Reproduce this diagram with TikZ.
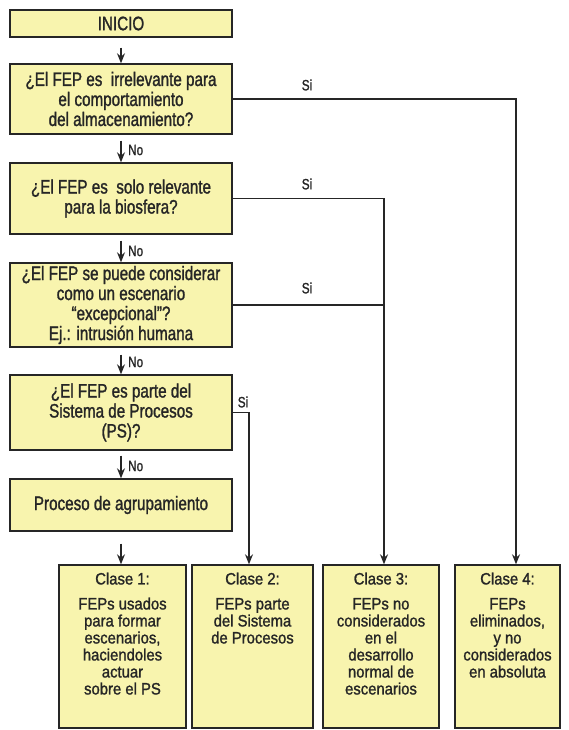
\documentclass[tikz,border=0pt]{standalone}
\usepackage{fontspec}
\setmainfont[FakeStretch=0.78,FakeBold=1.3]{Liberation Sans}
\newfontfamily\clsfont[FakeStretch=0.9,FakeBold=1.3]{Liberation Sans}
\usetikzlibrary{arrows.meta,positioning}
\definecolor{boxfill}{HTML}{F8F4AE}
\definecolor{ink}{HTML}{262626}
\tikzset{
  qbox/.style={draw=ink, line width=1.4pt, fill=boxfill, inner sep=0pt,
    minimum width=222pt, align=center, text=ink,
    font=\fontsize{19.5}{20}\selectfont},
  clsbox/.style={draw=ink, line width=1.4pt, fill=boxfill, inner sep=0pt,
    minimum height=163pt},
  clstext/.style={anchor=north, align=center, text=ink, inner sep=0pt,
    font=\clsfont\fontsize{16.5}{17}\selectfont},
  flow/.style={draw=ink, line width=1.2pt, -{Stealth[length=10pt,width=8pt]}},
  link/.style={draw=ink, line width=1.2pt},
  lbl/.style={text=ink, inner sep=0pt, font=\fontsize{15}{15}\selectfont}
}
\begin{document}
\begin{tikzpicture}[x=1pt,y=-1pt]
\useasboundingbox (0,0) rectangle (568,730);

% decision column
\node[qbox, minimum height=27pt] (inicio) at (121,23.5) {INICIO};
\node[qbox, minimum height=70pt] (q1) at (121,99)
  {¿El FEP es\ \ irrelevante para\\el comportamiento\\del almacenamiento?};
\node[qbox, minimum height=71pt] (q2) at (121,198.5)
  {¿El FEP es\ \ solo relevante\\para la biosfera?};
\node[qbox, minimum height=84pt] (q3) at (121,305)
  {¿El FEP se puede considerar\\como un escenario\\“excepcional”?\\Ej.: intrusión humana};
\node[qbox, minimum height=75pt] (q4) at (121,412.5)
  {¿El FEP es parte del\\Sistema de Procesos\\(PS)?};
\node[qbox, minimum height=52pt] (proc) at (121,505) {Proceso de agrupamiento};

% resulting classes
\node[clsbox, minimum width=127pt] (c1) at (122.5,646.5) {};
\node[clsbox, minimum width=121pt] (c2) at (252.5,646.5) {};
\node[clsbox, minimum width=116pt] (c3) at (381,646.5) {};
\node[clsbox, minimum width=105pt] (c4) at (507.5,646.5) {};

\node[clstext] (t1) at ([yshift=-8pt]c1.north)
  {Clase 1:\\[8pt]FEPs usados\\para formar\\escenarios,\\haciendoles\\actuar\\sobre el PS};
\node[clstext] (t2) at ([yshift=-8pt]c2.north)
  {Clase 2:\\[8pt]FEPs parte\\del Sistema\\de Procesos};
\node[clstext] (t3) at ([yshift=-8pt]c3.north)
  {Clase 3:\\[8pt]FEPs no\\considerados\\en el\\desarrollo\\normal de\\escenarios};
\node[clstext] (t4) at ([yshift=-8pt]c4.north)
  {Clase 4:\\[8pt]FEPs\\eliminados,\\y no\\considerados\\en absoluta};

% "No" path down the column
\draw[flow, shorten <=10pt] (inicio.south) -- (q1.north);
\draw[flow, shorten <=6pt] (q1.south) -- (q2.north);
\draw[flow, shorten <=6pt] (q2.south) -- (q3.north);
\draw[flow, shorten <=7pt] (q3.south) -- (q4.north);
\draw[flow, shorten <=5pt] (q4.south) -- (proc.north);
\draw[flow, shorten <=12pt] (proc.south) -- (proc.south |- c1.north);

\node[lbl, anchor=west] (n1) at (128,150) {No};
\node[lbl, anchor=west] (n2) at (128,251) {No};
\node[lbl, anchor=west] (n3) at (128,362) {No};
\node[lbl, anchor=west] (n4) at (128,466) {No};

% "Si" branches to the classes
\coordinate (j4) at (516,0);
\coordinate (j3) at (384,0);
\coordinate (j2) at (249,0);
\draw[flow] (q1.east) -| (j4 |- c4.north);
\draw[flow] (q2.east) -| (j3 |- c3.north);
\draw[link] (q3.east) -- (q3.east -| j3);
\draw[flow] (q4.east) -| (j2 |- c2.north);

\node[lbl] (s1) at (307,85) {Si};
\node[lbl] (s2) at (307,184) {Si};
\node[lbl] (s3) at (307,288) {Si};
\node[lbl] (s4) at (243,402) {Si};
\end{tikzpicture}
\end{document}
